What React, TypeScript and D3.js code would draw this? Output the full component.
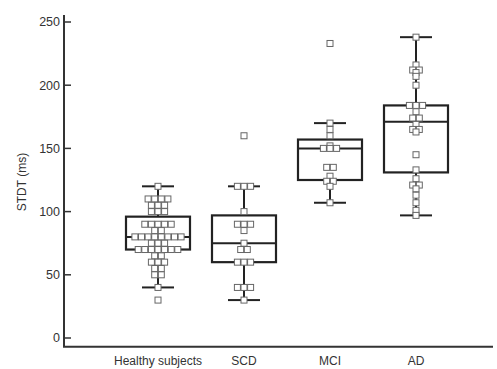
import * as d3 from 'd3'

const categories = ['Healthy subjects', 'SCD', 'MCI', 'AD']

const healthyValues = [
  120, 110, 110, 110, 110, 105, 105, 105, 100, 100, 100, 90, 90, 90, 90, 90, 85, 85,
  80, 80, 80, 80, 80, 80, 80, 80, 75, 75, 75, 70, 70, 70, 70, 70, 70, 70, 65, 65,
  60, 60, 60, 55, 55, 50, 50, 40, 30,
]
const scdValues = [160, 120, 120, 120, 100, 90, 90, 90, 85, 75, 70, 70, 60, 60, 60, 40, 40, 40, 30]
const mciValues = [233, 170, 165, 160, 152, 150, 150, 150, 135, 135, 128, 124, 124, 120, 107]
const adValues = [
  238, 216, 212, 212, 210, 207, 200, 184, 184, 184, 179, 174, 174, 169, 165, 165,
  163, 145, 133, 126, 121, 121, 118, 113, 107, 101, 97,
]

const groupValues = [healthyValues, scdValues, mciValues, adValues]

// box stats: whisker low, q1, median, q3, whisker high
const boxLow = [40, 30, 107, 97]
const boxQ1 = [70, 60, 125, 131]
const boxMedian = [80, 75, 150, 171]
const boxQ3 = [96, 97, 157, 184]
const boxHigh = [120, 120, 170, 238]

const yTicks = [0, 50, 100, 150, 200, 250]

const width = 497
const height = 369
const axisLeft = 64
const axisRight = 493
const boxWidth = 64
const capWidth = 32
const markSize = 6
const markGap = 6.6

const font = '"Liberation Sans", Arial, sans-serif'

const App = () => {
  const y = d3.scaleLinear().domain([0, 250]).range([338, 22])
  const x = d3.scalePoint<string>().domain(categories).range([158, 416])
  const axisBottom = y(-7)
  const axisTop = y(255.5)

  const points = groupValues.flatMap((values, gi) => {
    const counts = d3.rollup(values, (v) => v.length, (d) => d)
    const seen = new Map<number, number>()
    return values.map((v) => {
      const n = counts.get(v) ?? 1
      const i = seen.get(v) ?? 0
      seen.set(v, i + 1)
      const cx = (x(categories[gi]) ?? 0) + (i - (n - 1) / 2) * markGap
      return { key: `${gi}-${v}-${i}`, cx, cy: y(v) }
    })
  })

  return (
    <div style={{ position: 'fixed', left: 0, top: 0, background: '#fff' }}>
      <svg width={width} height={height} style={{ display: 'block' }}>
        <rect width={width} height={height} fill="#fff" />

        {/* boxes */}
        {categories.map((c, i) => {
          const cx = x(c) ?? 0
          return (
            <g key={c} stroke="#222" strokeWidth={2} fill="none">
              <line x1={cx} x2={cx} y1={y(boxHigh[i])} y2={y(boxQ3[i])} />
              <line x1={cx} x2={cx} y1={y(boxQ1[i])} y2={y(boxLow[i])} />
              <line x1={cx - capWidth / 2} x2={cx + capWidth / 2} y1={y(boxHigh[i])} y2={y(boxHigh[i])} />
              <line x1={cx - capWidth / 2} x2={cx + capWidth / 2} y1={y(boxLow[i])} y2={y(boxLow[i])} />
              <rect
                x={cx - boxWidth / 2}
                y={y(boxQ3[i])}
                width={boxWidth}
                height={y(boxQ1[i]) - y(boxQ3[i])}
                strokeWidth={2.2}
              />
              <line x1={cx - boxWidth / 2} x2={cx + boxWidth / 2} y1={y(boxMedian[i])} y2={y(boxMedian[i])} />
            </g>
          )
        })}

        {/* points */}
        <g fill="#fff" stroke="#666" strokeWidth={1}>
          {points.map((p) => (
            <rect
              key={p.key}
              x={p.cx - markSize / 2}
              y={p.cy - markSize / 2}
              width={markSize}
              height={markSize}
            />
          ))}
        </g>

        {/* axes */}
        <g stroke="#333" strokeWidth={2} fill="none">
          <path d={`M${axisLeft},${axisTop}V${axisBottom}H${axisRight}`} />
          {yTicks.map((t) => (
            <line key={t} x1={axisLeft} x2={axisLeft + 7} y1={y(t)} y2={y(t)} strokeWidth={1.5} />
          ))}
        </g>
        <g fontFamily={font} fontSize={12.5} fill="#333" textAnchor="end">
          {yTicks.map((t) => (
            <text key={t} x={axisLeft - 4} y={y(t)} dy="0.35em">
              {t}
            </text>
          ))}
        </g>
        <text
          transform={`translate(22, ${y(125) + 2}) rotate(-90)`}
          textAnchor="middle"
          dy="0.35em"
          fontFamily={font}
          fontSize={12}
          fill="#333"
        >
          STDT (ms)
        </text>
        <g fontFamily={font} fontSize={12} fill="#333" textAnchor="middle">
          {categories.map((c) => (
            <text key={c} x={x(c)} y={365}>
              {c}
            </text>
          ))}
        </g>
      </svg>
    </div>
  )
}

export default App
